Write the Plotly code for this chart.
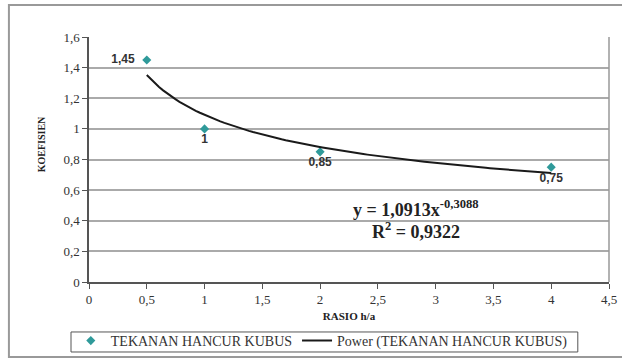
import numpy as np
import plotly.graph_objects as go

rasio = [0.5, 1, 2, 4]
koefisien = [1.45, 1.0, 0.85, 0.75]
point_labels = ["1,45", "1", "0,85", "0,75"]
label_pos = ["middle left", "bottom center", "bottom center", "bottom center"]
x_ticks = [0, 0.5, 1, 1.5, 2, 2.5, 3, 3.5, 4, 4.5]
y_ticks = [0, 0.2, 0.4, 0.6, 0.8, 1.0, 1.2, 1.4, 1.6]

# power trendline fitted from the data (least squares in log space)
b, ln_a = np.polyfit(np.log(rasio), np.log(koefisien), 1)
a = np.exp(ln_a)
xs = np.linspace(min(rasio), max(rasio), 100)
ys = a * xs ** b
pred = np.log(a * np.array(rasio) ** b)
ly = np.log(koefisien)
r2 = 1 - np.sum((ly - pred) ** 2) / np.sum((ly - ly.mean()) ** 2)

serif = "Liberation Serif"
sans = "Liberation Sans"
label_text = [("<b>%s</b>&nbsp;&nbsp;" % t) if p == "middle left" else "<b>%s</b>" % t
              for t, p in zip(point_labels, label_pos)]

fig = go.Figure()
fig.add_trace(go.Scatter(
    x=rasio, y=koefisien, mode="markers+text", name="TEKANAN HANCUR KUBUS",
    marker=dict(symbol="diamond", size=7, color="#2f9a9a"),
    text=label_text, textposition=label_pos,
    textfont=dict(family=sans, size=12, color="#333"),
))
fig.add_trace(go.Scatter(
    x=xs, y=ys, mode="lines", name="Power (TEKANAN HANCUR KUBUS)",
    line=dict(color="#1a1a1a", width=2),
))

eq = f"y = {a:.4f}x<sup>{b:.4f}</sup>".replace(".", ",")
r2t = f"R<sup>2</sup> = {r2:.4f}".replace(".", ",")
fig.add_annotation(x=2.83, y=0.48, xref="x", yref="y", text=f"<b>{eq}</b>", showarrow=False,
                   font=dict(family=serif, size=18, color="#222"))
fig.add_annotation(x=2.83, y=0.335, xref="x", yref="y", text=f"<b>{r2t}</b>", showarrow=False,
                   font=dict(family=serif, size=18, color="#222"))

# y axis title
fig.add_annotation(x=-0.092, y=0.563, xref="paper", yref="paper", text="<b>KOEFISIEN</b>",
                   textangle=-90, showarrow=False, xanchor="center", yanchor="middle",
                   font=dict(family=serif, size=10, color="#222"))

# plot area right border
fig.add_shape(type="line", xref="paper", yref="paper", x0=1, x1=1, y0=0, y1=1,
              line=dict(color="#999", width=1.5))
# outer chart frame
fig.add_shape(type="rect", xref="paper", yref="paper", x0=-0.154, x1=1.04, y0=-0.306, y1=1.131,
              line=dict(color="#999", width=2))
# legend box
fig.add_shape(type="rect", xref="paper", yref="paper", x0=-0.0346, x1=0.940, y0=-0.2857, y1=-0.204,
              line=dict(color="#555", width=1))

fig.update_layout(
    width=622, height=360,
    margin=dict(l=89, r=13, t=37, b=78, autoexpand=False),
    paper_bgcolor="white", plot_bgcolor="white",
    separators=", ",
    showlegend=True,
    legend=dict(orientation="h", x=-0.035, y=-0.1755, xanchor="left", yanchor="top",
                borderwidth=0, bgcolor="rgba(0,0,0,0)",
                font=dict(family=serif, size=14, color="#333"),
                itemwidth=30, tracegroupgap=0),
    font=dict(family=serif, color="#333"),
)
fig.update_xaxes(range=[0, 4.5], tickvals=x_ticks, showgrid=False,
                 showline=True, linecolor="#555", linewidth=1.5, ticks="outside", ticklen=5,
                 tickcolor="#555", tickfont=dict(family=serif, size=13, color="#333"),
                 title=dict(text="<b>RASIO h/a</b>", font=dict(family=serif, size=11, color="#222"),
                            standoff=6),
                 zeroline=False)
fig.update_yaxes(range=[0, 1.6], tickvals=y_ticks, showgrid=True, gridcolor="#aaa", gridwidth=1.5,
                 showline=True, linecolor="#555", linewidth=1.5, ticks="outside", ticklen=5,
                 tickcolor="#555", tickfont=dict(family=serif, size=13, color="#333"),
                 zeroline=False)

fig.write_html("out.html", config={"displayModeBar": False},
               post_script="document.body.style.margin='0';")
